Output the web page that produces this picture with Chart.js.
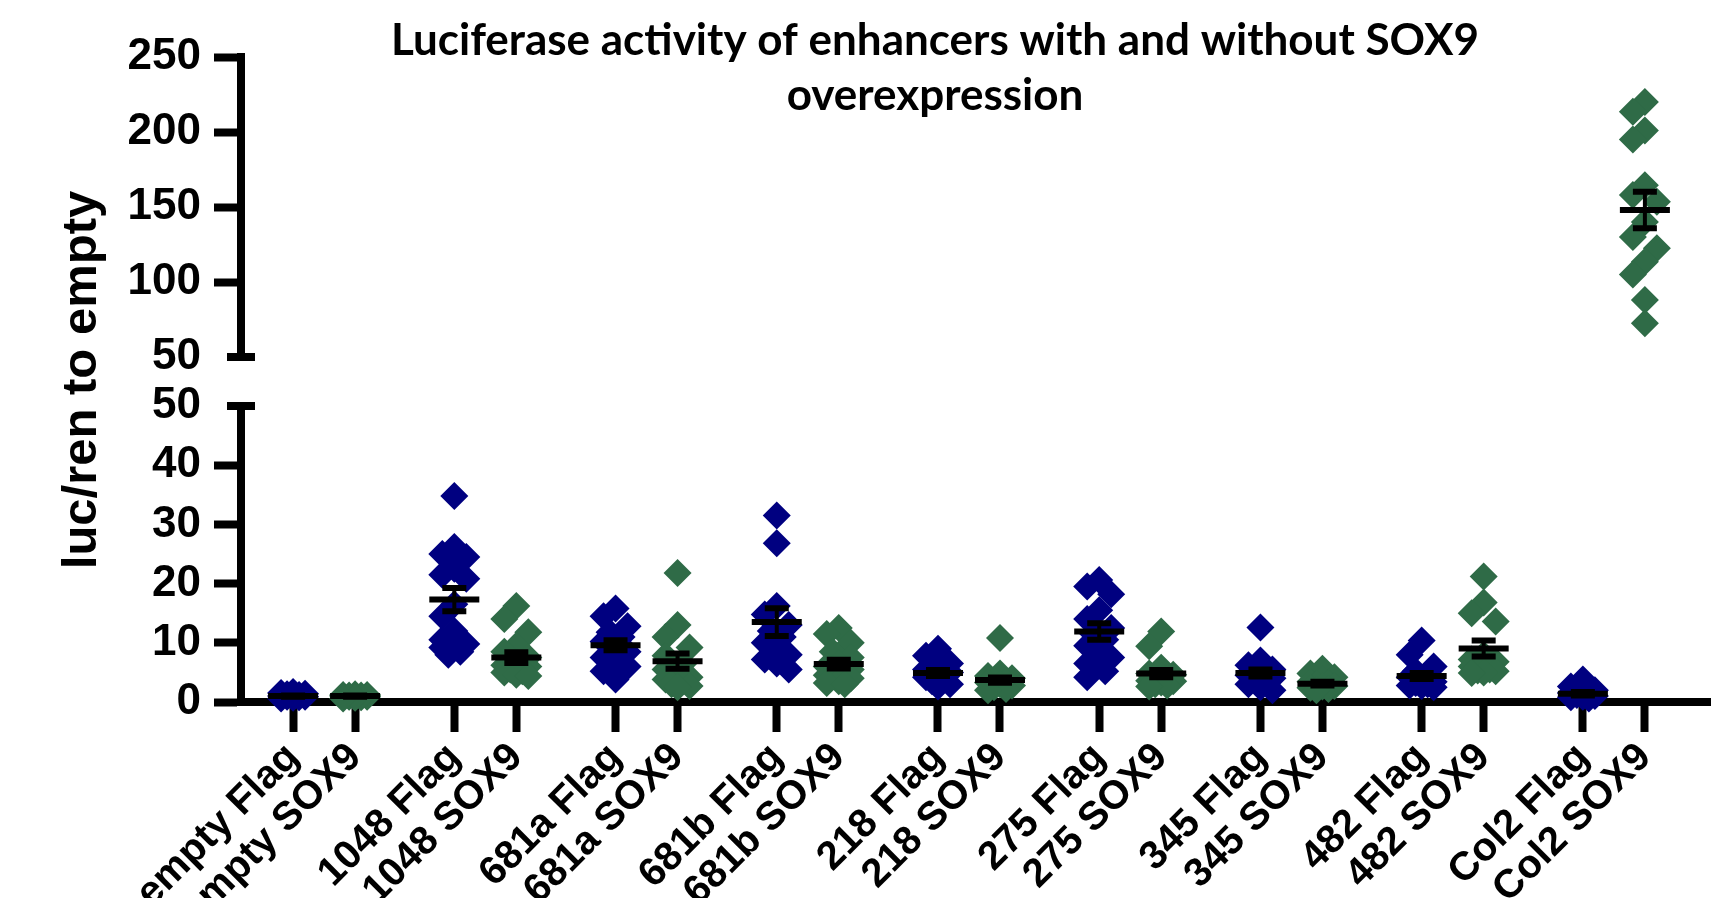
<!DOCTYPE html>
<html>
<head>
<meta charset="utf-8">
<script src="https://cdn.jsdelivr.net/npm/chart.js@4.4.0/dist/chart.umd.min.js"></script>
<style>
  html, body { margin: 0; padding: 0; background: #fff; }
  #wrap { position: relative; width: 1730px; height: 898px; overflow: hidden; }
  canvas { position: absolute; left: 0; top: 0; }
</style>
</head>
<body>
<div id="wrap">
  <canvas id="lower" width="1730" height="898"></canvas>
  <canvas id="upper" width="1730" height="898"></canvas>
</div>
<script>
// groups in the order they sit on the x axis
const labels = ['empty Flag', 'empty SOX9', '1048 Flag', '1048 SOX9', '681a Flag', '681a SOX9',
  '681b Flag', '681b SOX9', '218 Flag', '218 SOX9', '275 Flag', '275 SOX9',
  '345 Flag', '345 SOX9', '482 Flag', '482 SOX9', 'Col2 Flag', 'Col2 SOX9'];

// luc/ren to empty, one value per replicate
const emptyFlag = [1.7, 1.5, 1.3, 1.2, 1.1, 1.0, 0.9, 0.9, 0.8, 0.7, 0.6, 1.4];
const emptySox9 = [1.3, 1.2, 1.1, 1.1, 1.0, 1.0, 0.9, 0.9, 0.8, 0.7, 0.6, 1.2];
const flag1048 = [34.8, 26.2, 25.0, 24.5, 22.5, 21.5, 20.8, 16.5, 14.5, 12.0, 10.5, 9.8, 9.5, 9.2, 8.5, 8.0];
const sox1048 = [16.2, 14.0, 11.8, 9.5, 8.5, 7.5, 6.5, 6.0, 5.5, 5.0, 4.6, 4.4, 5.2, 6.2];
const flag681a = [15.8, 14.5, 12.8, 11.8, 11.0, 10.2, 9.6, 8.5, 7.5, 6.8, 6.0, 5.2, 3.8];
const sox681a = [21.8, 13.0, 11.0, 9.2, 7.8, 6.5, 5.5, 4.5, 3.8, 3.0, 2.7, 2.5, 3.5, 4.2];
const flag681b = [31.5, 26.8, 16.2, 14.8, 13.0, 12.0, 11.0, 10.0, 9.0, 8.0, 7.2, 6.5, 5.5];
const sox681b = [12.5, 11.5, 10.0, 8.5, 7.5, 6.5, 6.0, 5.5, 5.0, 4.5, 4.0, 3.5, 3.0, 3.2];
const flag218 = [9.0, 7.8, 6.5, 6.0, 5.5, 5.0, 4.5, 4.2, 3.8, 3.5, 3.0, 2.6];
const sox218 = [10.8, 4.8, 4.4, 4.0, 3.6, 3.3, 3.0, 2.8, 2.5, 2.2, 2.0, 3.4];
const flag275 = [20.6, 19.5, 18.2, 15.5, 14.0, 12.5, 11.5, 10.5, 9.5, 8.5, 7.5, 6.5, 5.2, 4.2];
const sox275 = [11.9, 9.4, 5.8, 4.6, 4.8, 4.4, 4.0, 3.6, 3.3, 3.0, 3.5, 4.2, 2.8, 2.6];
const flag345 = [12.6, 7.0, 6.2, 5.5, 5.0, 4.5, 4.0, 3.5, 3.0, 2.5, 2.0, 3.8];
const sox345 = [5.6, 4.8, 4.2, 3.8, 3.4, 3.0, 2.7, 2.4, 2.2, 2.0, 3.2, 2.6];
const flag482 = [10.4, 8.0, 6.0, 5.2, 4.6, 4.2, 3.8, 3.4, 3.0, 2.7, 2.5, 3.2, 2.8];
const sox482 = [21.2, 16.8, 15.0, 13.6, 8.0, 7.2, 6.5, 6.0, 5.5, 5.2, 4.9, 6.8, 5.0, 5.3];
const flagCol2 = [3.8, 2.6, 2.0, 1.6, 1.3, 1.0, 0.8, 0.6, 1.2, 0.9, 1.5];
const soxCol2 = [220, 213.5, 201, 195, 164.5, 158, 153.5, 140, 130, 122.5, 113.5, 105, 88, 72.5];

const groupValues = [emptyFlag, emptySox9, flag1048, sox1048, flag681a, sox681a, flag681b, sox681b,
  flag218, sox218, flag275, sox275, flag345, sox345, flag482, sox482, flagCol2, soxCol2];

// mean and SEM bars as drawn on the figure
const means = [1.0, 1.0, 17.3, 7.5, 9.6, 6.9, 13.5, 6.4, 4.9, 3.7, 11.9, 4.8, 4.9, 3.1, 4.4, 9.05, 1.4, 148];
const sems = [0.1, 0.1, 1.95, 0.9, 0.85, 1.3, 2.35, 0.75, 0.5, 0.45, 1.4, 0.6, 0.6, 0.3, 0.5, 1.35, 0.3, 12.2];

// broken y axis: lower and upper segment
const lowerTicks = [0, 10, 20, 30, 40, 50];
const upperTicks = [50, 100, 150, 200, 250];

const flagColor = '#000080';
const soxColor = '#2f6b47';

// layout of the figure (pixels)
const AXIS_X = 241;
const PLOT_RIGHT = 1710;
const X_MIN = -0.84, X_MAX = 22.85;

// pairs of two groups, wider gap between pairs
function groupX(i) { return Math.floor(i / 2) * 2.6 + (i % 2); }

const sans = 'Liberation Sans, Arial, sans-serif';
const tickFont = {family: sans, size: 44, weight: 'bold'};
const labelFont = {family: sans, size: 40, weight: 'bold'};

// put overlapping points next to each other, like a scatter dot plot
function swarm(values, xCenter, xs, ys) {
  const cx = xs.getPixelForValue(xCenter);
  const order = values.map((v, i) => i).sort((a, b) => values[b] - values[a]);
  const placed = [];
  const out = [];
  for (const i of order) {
    const py = ys.getPixelForValue(values[i]);
    let best = 0, bestD = -1;
    for (const off of [0, -12, 12, -6, 6]) {
      let d = Infinity;
      for (const p of placed) d = Math.min(d, Math.hypot(p.x - off, p.y - py));
      if (d >= 18) { best = off; break; }
      if (d > bestD) { bestD = d; best = off; }
    }
    placed.push({x: best, y: py});
    out.push({x: xs.getValueForPixel(cx + best), y: values[i]});
  }
  return out;
}

function startPoints(idx) {
  return idx.flatMap(i => groupValues[i].map(v => ({x: groupX(i), y: v})));
}

function spread(chart, idx) {
  return idx.flatMap(i => swarm(groupValues[i], groupX(i), chart.scales.x, chart.scales.y));
}

// mean line with SEM whiskers
function meanBars(idx) {
  return {
    id: 'meanBars',
    afterDatasetsDraw(chart) {
      const {ctx, scales: {x, y}} = chart;
      ctx.save();
      ctx.strokeStyle = '#000';
      idx.forEach(i => {
        const cx = x.getPixelForValue(groupX(i));
        const ym = y.getPixelForValue(means[i]);
        const yt = y.getPixelForValue(means[i] + sems[i]);
        const yb = y.getPixelForValue(means[i] - sems[i]);
        ctx.lineWidth = 4;
        ctx.beginPath(); ctx.moveTo(cx, yt); ctx.lineTo(cx, yb); ctx.stroke();
        ctx.lineWidth = 6;
        ctx.beginPath();
        ctx.moveTo(cx - 12, yt); ctx.lineTo(cx + 12, yt);
        ctx.moveTo(cx - 12, yb); ctx.lineTo(cx + 12, yb);
        ctx.moveTo(cx - 25, ym); ctx.lineTo(cx + 25, ym);
        ctx.stroke();
      });
      ctx.restore();
    }
  };
}

// short cross tick where the y axis is broken
const breakCap = {
  id: 'breakCap',
  afterDraw(chart) {
    const {ctx, chartArea, scales: {y}} = chart;
    const py = y.getPixelForValue(50);
    ctx.save();
    ctx.strokeStyle = '#000';
    ctx.lineWidth = 8;
    ctx.beginPath();
    ctx.moveTo(chartArea.left - 14, py);
    ctx.lineTo(chartArea.left + 14, py);
    ctx.stroke();
    ctx.restore();
  }
};

function caption(text, x, y, font, rotate) {
  return {
    id: 'caption',
    afterDraw(chart) {
      const ctx = chart.ctx;
      ctx.save();
      ctx.font = font;
      ctx.fillStyle = '#000';
      ctx.textAlign = 'center';
      ctx.textBaseline = rotate ? 'middle' : 'alphabetic';
      ctx.translate(x, y);
      if (rotate) ctx.rotate(rotate);
      text.forEach((t, k) => ctx.fillText(t, 0, k * 55));
      ctx.restore();
    }
  };
}

function yAxis(min, max, tickValues) {
  return {
    type: 'linear', min: min, max: max, z: 1,
    afterBuildTicks: s => { s.ticks = tickValues.map(v => ({value: v})); },
    afterFit: s => { s.width = AXIS_X; },
    border: {display: true, color: '#000', width: 8},
    grid: {
      drawOnChartArea: false, drawTicks: true, tickLength: 27, tickWidth: 8,
      tickColor: c => (c.tick && c.tick.value === 50) ? 'rgba(0,0,0,0)' : '#000'
    },
    ticks: {font: tickFont, color: '#000', padding: 13}
  };
}

function pointSet(label, color, data) {
  return {
    label: label, data: data, clip: false,
    pointStyle: 'rectRot', pointRadius: 14, pointHoverRadius: 14,
    pointBackgroundColor: color, pointBorderWidth: 0, showLine: false
  };
}

const flagIdx = [0, 2, 4, 6, 8, 10, 12, 14, 16];
const soxLowIdx = [1, 3, 5, 7, 9, 11, 13, 15];
const soxHighIdx = [17];

Chart.defaults.font.family = sans;
Chart.defaults.color = '#000';

const lowerChart = new Chart(document.getElementById('lower'), {
  type: 'scatter',
  data: {datasets: [
    pointSet('Flag', flagColor, startPoints(flagIdx)),
    pointSet('SOX9', soxColor, startPoints(soxLowIdx))
  ]},
  options: {
    responsive: false, animation: false,
    layout: {autoPadding: false, padding: {left: 0, top: 406, right: 1730 - PLOT_RIGHT, bottom: 0}},
    plugins: {legend: {display: false}, tooltip: {enabled: false}},
    scales: {
      x: {
        type: 'linear', min: X_MIN, max: X_MAX, z: 1,
        afterBuildTicks: s => { s.ticks = labels.map((l, i) => ({value: groupX(i)})); },
        afterFit: s => { s.height = 898 - 702; },
        border: {display: true, color: '#000', width: 8},
        grid: {drawOnChartArea: false, drawTicks: true, tickLength: 30, tickWidth: 8, tickColor: '#000'},
        ticks: {
          autoSkip: false, minRotation: 45, maxRotation: 45, font: labelFont, color: '#000', padding: 2,
          callback: (v, i) => labels[i]
        }
      },
      y: yAxis(0, 50, lowerTicks)
    }
  },
  plugins: [meanBars(flagIdx.concat(soxLowIdx)), breakCap,
    caption(['luc/ren to empty'], 82, 380, 'bold 49px ' + sans, -Math.PI / 2)]
});

const upperChart = new Chart(document.getElementById('upper'), {
  type: 'scatter',
  data: {datasets: [pointSet('SOX9', soxColor, startPoints(soxHighIdx))]},
  options: {
    responsive: false, animation: false,
    layout: {autoPadding: false, padding: {left: 0, top: 57, right: 1730 - PLOT_RIGHT, bottom: 898 - 357}},
    plugins: {legend: {display: false}, tooltip: {enabled: false}},
    scales: {
      x: {type: 'linear', min: X_MIN, max: X_MAX, display: false},
      y: yAxis(50, 250, upperTicks)
    }
  },
  plugins: [meanBars(soxHighIdx), breakCap,
    caption(['Luciferase activity of enhancers with and without SOX9', 'overexpression'], 935, 55, 'bold 44px Lato')]
});

// second pass: spread the points sideways now that the scales are known
lowerChart.data.datasets[0].data = spread(lowerChart, flagIdx);
lowerChart.data.datasets[1].data = spread(lowerChart, soxLowIdx);
lowerChart.update('none');
upperChart.data.datasets[0].data = spread(upperChart, soxHighIdx);
upperChart.update('none');
</script>
</body>
</html>
